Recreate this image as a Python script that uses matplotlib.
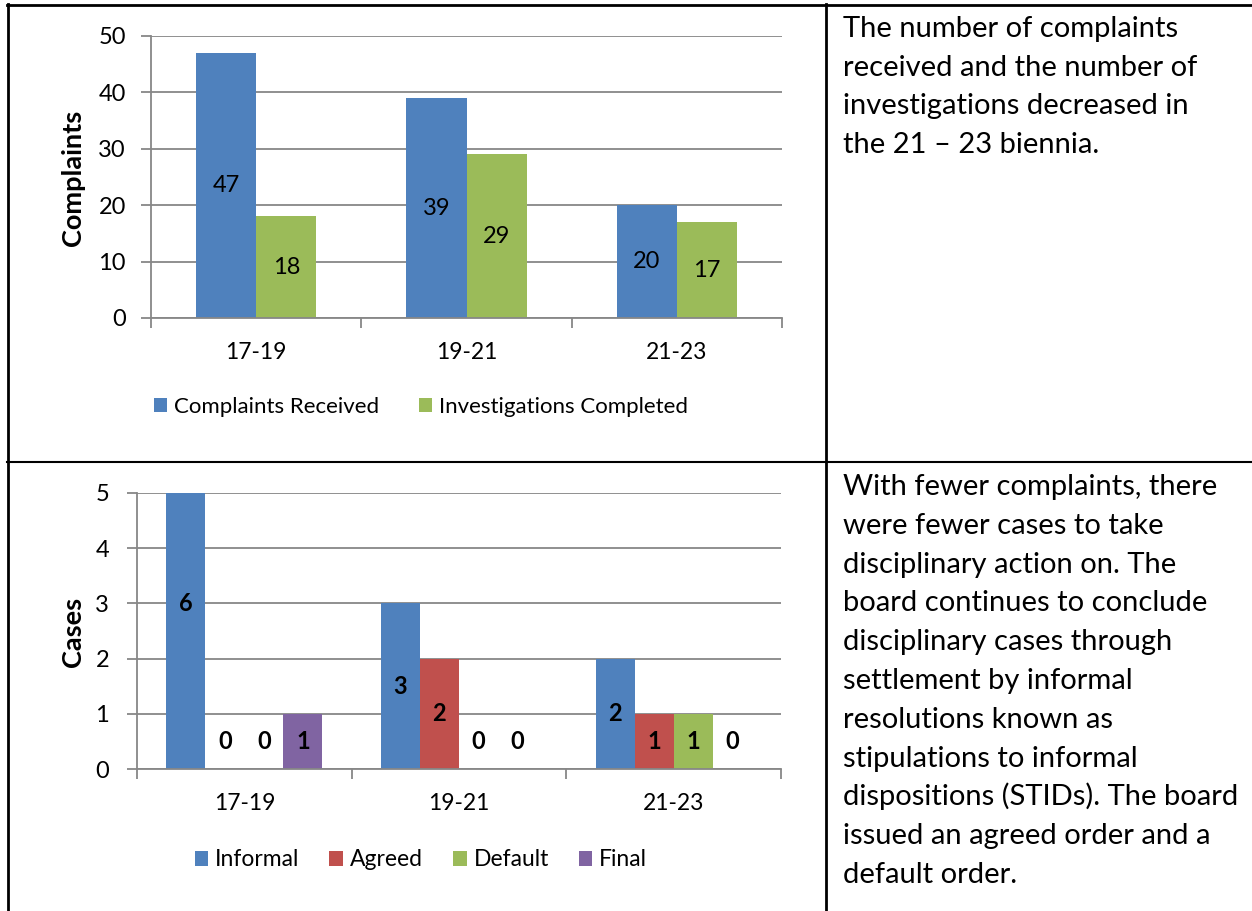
import numpy as np
import matplotlib
matplotlib.use("Agg")
import matplotlib.pyplot as plt
from matplotlib.lines import Line2D

plt.rcParams['font.family'] = ['Lato', 'DejaVu Sans']

# data
periods = ["17-19", "19-21", "21-23"]
received = [47, 39, 20]
completed = [18, 29, 17]

case_types = ["Informal", "Agreed", "Default", "Final"]
informal = [6, 3, 2]
agreed = [0, 2, 1]
default = [0, 0, 1]
final = [1, 0, 0]

text_top = ["The number of complaints",
            "received and the number of",
            "investigations decreased in",
            "the 21 \u2013 23 biennia."]
text_bottom = ["With fewer complaints, there",
               "were fewer cases to take",
               "disciplinary action on. The",
               "board continues to conclude",
               "disciplinary cases through",
               "settlement by informal",
               "resolutions known as",
               "stipulations to informal",
               "dispositions (STIDs). The board",
               "issued an agreed order and a",
               "default order."]

BLUE = "#4F81BD"
GREEN = "#9BBB59"
RED = "#C0504D"
PURPLE = "#8064A2"
GRID = "#878787"

W, H = 1252, 911
fig = plt.figure(figsize=(W / 100, H / 100), dpi=100)


def px_axes(left, top, right, bottom):
    return fig.add_axes([left / W, 1 - bottom / H, (right - left) / W, (bottom - top) / H])


def style_axes(ax, ymax, step, ylabel, label_x, label_y, ypad):
    n = len(periods)
    x = np.arange(n)
    ax.set_xlim(-0.5, n - 0.5)
    ax.set_ylim(0, ymax)
    ax.set_yticks(np.arange(0, ymax + 1, step))
    ax.set_xticks(np.arange(-0.5, n, 1.0))
    ax.set_xticklabels([])
    ax.set_xticks(x, minor=True)
    ax.set_xticklabels(periods, minor=True)
    ax.tick_params(axis='x', which='minor', length=0, pad=17, labelsize=16.5)
    ax.tick_params(axis='x', which='major', length=7, width=1.3, color=GRID, direction='out')
    ax.tick_params(axis='y', length=7, width=1.3, color=GRID, labelsize=17, pad=ypad)
    for s in ['top', 'right']:
        ax.spines[s].set_visible(False)
    for s in ['left', 'bottom']:
        ax.spines[s].set_color(GRID)
        ax.spines[s].set_linewidth(1.3)
    ax.grid(axis='y', color=GRID, linewidth=1.3)
    ax.set_axisbelow(True)
    fig.text(label_x / W, 1 - label_y / H, ylabel, rotation=90, ha='center', va='center',
             fontsize=19.5, fontweight='bold')
    return x


# chart 1
ax1 = px_axes(151, 36, 782, 318)
x = style_axes(ax1, 50, 10, "Complaints", 73, 178, 11)
bw = 0.286
b1 = ax1.bar(x - bw / 2, received, bw, color=BLUE, label="Complaints Received", zorder=2)
b2 = ax1.bar(x + bw / 2, completed, bw, color=GREEN, label="Investigations Completed", zorder=2)
for bars, vals in [(b1, received), (b2, completed)]:
    for r, v in zip(bars, vals):
        ax1.text(r.get_x() + r.get_width() / 2, v / 2, str(v), ha='center', va='center',
                 fontsize=17, zorder=3)
ax1.legend(loc='center', bbox_to_anchor=(421 / W, 1 - 407 / H), bbox_transform=fig.transFigure,
           ncol=2, frameon=False, fontsize=16, handlelength=0.6, handleheight=0.6,
           handletextpad=0.3, columnspacing=1.8)

# chart 2
ax2 = px_axes(137, 493, 781, 769)
x = style_axes(ax2, 5, 1, "Cases", 73, 632, 13)
bw2 = 0.182
series = [informal, agreed, default, final]
colors = [BLUE, RED, GREEN, PURPLE]
for i, (vals, c, name) in enumerate(zip(series, colors, case_types)):
    off = (i - 1.5) * bw2
    bars = ax2.bar(x + off, vals, bw2, color=c, label=name, zorder=2)
    for r, v in zip(bars, vals):
        ypos = v / 2 if v > 0 else 0.5
        ax2.text(r.get_x() + r.get_width() / 2, ypos, str(v), ha='center', va='center',
                 fontsize=17, fontweight='bold', zorder=3)
ax2.legend(loc='center', bbox_to_anchor=(421 / W, 1 - 860 / H), bbox_transform=fig.transFigure,
           ncol=4, frameon=False, fontsize=16.5, handlelength=0.6, handleheight=0.6,
           handletextpad=0.3, columnspacing=1.3)

# table borders
def hline(y, x0, x1, lw=2):
    fig.add_artist(Line2D([x0 / W, x1 / W], [1 - y / H, 1 - y / H], color='black', linewidth=lw))


def vline(xp, y0, y1, lw=2):
    fig.add_artist(Line2D([xp / W, xp / W], [1 - y0 / H, 1 - y1 / H], color='black', linewidth=lw))


hline(5, 7, W)
hline(462, 7, W, lw=1.5)
vline(8, 4, H)
vline(826, 4, H)

# side text
for i, line in enumerate(text_top):
    fig.text(843 / W, 1 - (37 + i * 38.7) / H, line, fontsize=21, va='baseline', ha='left')
for i, line in enumerate(text_bottom):
    fig.text(843 / W, 1 - (495 + i * 38.8) / H, line, fontsize=21, va='baseline', ha='left')

fig.savefig("out.png", dpi=100)
